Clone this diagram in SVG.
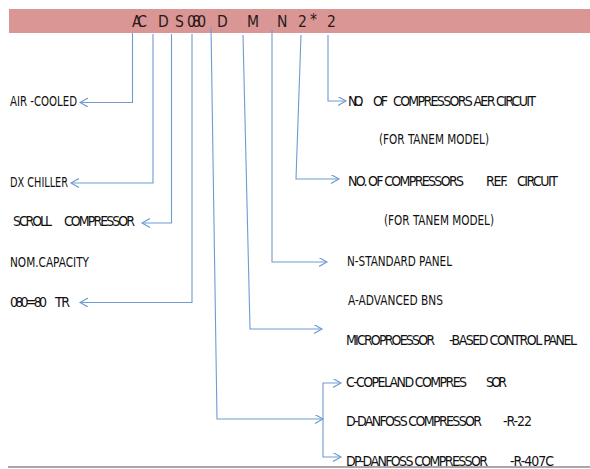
<svg xmlns="http://www.w3.org/2000/svg" width="590" height="469" viewBox="0 0 590 469">
<style>
.t{font-family:"Liberation Sans Narrow","DejaVu Sans Condensed","Liberation Sans",Arial,sans-serif;font-size:14px;fill:#111111}
.b{font-family:"Liberation Sans Narrow","DejaVu Sans Condensed","Liberation Sans",Arial,sans-serif;font-size:15.5px;fill:#2a1a1a}
.c{fill:none;stroke:#6f9bd1;stroke-width:1.1}
</style>
<defs>
<marker id="ah" markerUnits="userSpaceOnUse" markerWidth="12" markerHeight="12" refX="8" refY="4.5" orient="auto">
<path d="M0,0 L8,4.5 L0,9" fill="none" stroke="#6f9bd1" stroke-width="1.1"/>
</marker>
</defs>
<rect width="590" height="469" fill="#ffffff"/>
<g id="code-bar">
<rect x="9" y="9" width="581" height="24" fill="#d99694"/>
<text class="b" y="26.5" lengthAdjust="spacingAndGlyphs"><tspan x="132" textLength="15">AC</tspan> <tspan x="158" textLength="7">D</tspan> <tspan x="175" textLength="6">S</tspan> <tspan x="187" textLength="19">080</tspan> <tspan x="217" textLength="7">D</tspan> <tspan x="247" textLength="10">M</tspan> <tspan x="277" textLength="8">N</tspan> <tspan x="298" textLength="6">2</tspan> <tspan x="310" y="25" textLength="5">*</tspan> <tspan x="327" y="26.5" textLength="6">2</tspan></text>
</g>
<g id="connectors">
<path class="c" d="M132.5,33 L132.5,102.5 L80,102.5" marker-end="url(#ah)"/>
<path class="c" d="M153,34 L153,183 L71,183" marker-end="url(#ah)"/>
<path class="c" d="M171.5,34 L171.5,223 L142,223" marker-end="url(#ah)"/>
<path class="c" d="M192,34 L192,302.5 L80,302.5" marker-end="url(#ah)"/>
<path class="c" d="M211,27 L217,419 L323,419" marker-end="url(#ah)"/>
<path class="c" d="M323,419 L323,383 L341,383" marker-end="url(#ah)"/>
<path class="c" d="M323,419 L323,457 L341,457" marker-end="url(#ah)"/>
<path class="c" d="M243,35 L250,329 L322,329" marker-end="url(#ah)"/>
<path class="c" d="M272,30 L272,262 L327,262" marker-end="url(#ah)"/>
<path class="c" d="M301,35 L296,179 L339,179" marker-end="url(#ah)"/>
<path class="c" d="M328,35 L328,101 L346,101" marker-end="url(#ah)"/>
</g>
<g id="air-cooled"><text class="t" x="10" y="106" textLength="67" lengthAdjust="spacingAndGlyphs">AIR -COOLED</text></g>
<g id="dx-chiller"><text class="t" x="10" y="187" textLength="58" lengthAdjust="spacingAndGlyphs">DX CHILLER</text></g>
<g id="scroll-compressor"><text class="t" y="226" lengthAdjust="spacingAndGlyphs"><tspan x="13" textLength="39">SCROLL</tspan> <tspan x="64" textLength="71">COMPRESSOR</tspan></text></g>
<g id="nom-capacity"><text class="t" x="10" y="267" textLength="79" lengthAdjust="spacingAndGlyphs">NOM.CAPACITY</text></g>
<g id="capacity-080"><text class="t" y="307" lengthAdjust="spacingAndGlyphs"><tspan x="10" textLength="37">080=80</tspan> <tspan x="55" textLength="15">TR</tspan></text></g>
<g id="compressors-per-circuit">
<text class="t" y="106" lengthAdjust="spacingAndGlyphs"><tspan x="348" textLength="15">NO.</tspan> <tspan x="373" textLength="15">OF</tspan> <tspan x="393" textLength="143">COMPRESSORS AER CIRCUIT</tspan></text>
<text class="t" x="379" y="144" textLength="110" lengthAdjust="spacingAndGlyphs">(FOR TANEM MODEL)</text>
</g>
<g id="compressors-ref-circuit">
<text class="t" y="186" lengthAdjust="spacingAndGlyphs"><tspan x="348" textLength="116">NO. OF COMPRESSORS</tspan> <tspan x="486" textLength="22">REF.</tspan> <tspan x="517" textLength="41">CIRCUIT</tspan></text>
<text class="t" x="384" y="225" textLength="110" lengthAdjust="spacingAndGlyphs">(FOR TANEM MODEL)</text>
</g>
<g id="panel">
<text class="t" x="347" y="266" textLength="105" lengthAdjust="spacingAndGlyphs">N-STANDARD PANEL</text>
<text class="t" x="348" y="305" textLength="95" lengthAdjust="spacingAndGlyphs">A-ADVANCED BNS</text>
<text class="t" y="345" lengthAdjust="spacingAndGlyphs"><tspan x="346" textLength="89">MICROPROESSOR</tspan> <tspan x="449" textLength="128">-BASED CONTROL PANEL</tspan></text>
</g>
<g id="compressor-make">
<text class="t" y="387" lengthAdjust="spacingAndGlyphs"><tspan x="346" textLength="121">C-COPELAND COMPRES</tspan> <tspan x="486" textLength="21">SOR</tspan></text>
<text class="t" y="426" lengthAdjust="spacingAndGlyphs"><tspan x="346" textLength="136">D-DANFOSS COMPRESSOR</tspan> <tspan x="503" textLength="29">-R-22</tspan></text>
<text class="t" y="466" lengthAdjust="spacingAndGlyphs"><tspan x="346" textLength="142">DP-DANFOSS COMPRESSOR</tspan> <tspan x="510" textLength="44">-R-407C</tspan></text>
</g>
<line x1="8" y1="467" x2="590" y2="467" stroke="#8c8c8c" stroke-width="1.5"/>
</svg>
